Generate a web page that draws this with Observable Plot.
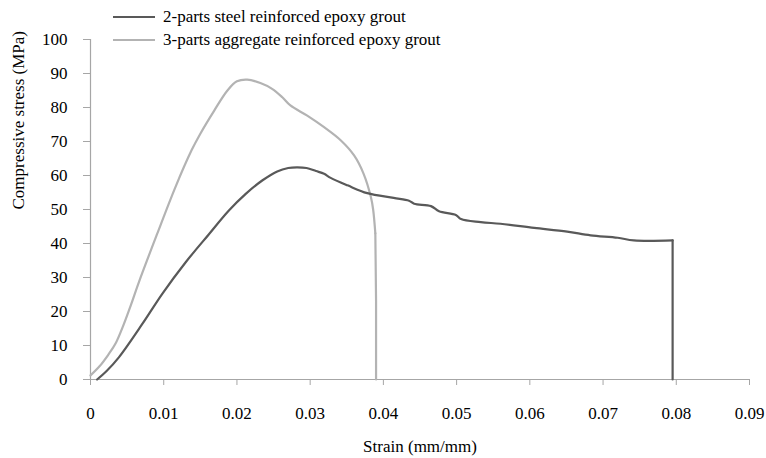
<!DOCTYPE html>
<html>
<head>
<meta charset="utf-8">
<script src="https://cdn.jsdelivr.net/npm/d3@7"></script>
<script src="https://cdn.jsdelivr.net/npm/@observablehq/plot@0.6"></script>
<style>
  html, body { margin: 0; padding: 0; background: #fff; }
  #wrap { position: relative; width: 766px; height: 458px; font-family: "Liberation Serif", "Times New Roman", Times, "Noto Serif", "DejaVu Serif", "Nimbus Roman", FreeSerif, serif; }
  #legend { position: absolute; left: 113px; top: 5px; font-size: 17px; color: #000; line-height: 23px; }
  #legend .row { display: flex; align-items: center; height: 23px; }
  #legend svg { margin-right: 8px; }
</style>
</head>
<body>
<div id="wrap">
  <div id="chart"></div>
  <div id="legend"></div>
</div>
<script>
// Series names
const seriesNames = ["2-parts steel reinforced epoxy grout", "3-parts aggregate reinforced epoxy grout"];
const seriesColors = ["#595959", "#b3b3b3"];

// 2-parts steel reinforced epoxy grout
const steelStrain = [0.0009, 0.0022, 0.0039, 0.0071, 0.0098, 0.0130, 0.0162, 0.0189, 0.0212, 0.0235, 0.0255, 0.0270, 0.0282, 0.0295, 0.0308, 0.0319, 0.0328, 0.0351, 0.0378, 0.0414, 0.0435, 0.0442, 0.0465, 0.0476, 0.0499, 0.0506, 0.0533, 0.0560, 0.0606, 0.0651, 0.0683, 0.0720, 0.0742, 0.0795, 0.0795];
const steelStress = [0, 2.5, 6.6, 16.4, 25.2, 34.5, 42.8, 49.7, 54.6, 58.6, 61.2, 62.2, 62.4, 62.2, 61.3, 60.5, 59.3, 57.1, 54.8, 53.4, 52.6, 51.7, 51.0, 49.5, 48.4, 47.2, 46.3, 45.8, 44.6, 43.5, 42.4, 41.7, 40.9, 40.9, 0];

// 3-parts aggregate reinforced epoxy grout
const aggStrain = [0, 0.0012, 0.0024, 0.0034, 0.0045, 0.0055, 0.0066, 0.0091, 0.0116, 0.0138, 0.0150, 0.0169, 0.0187, 0.0200, 0.0214, 0.0232, 0.0248, 0.0262, 0.0273, 0.0296, 0.0319, 0.0342, 0.0360, 0.0373, 0.0383, 0.0386, 0.0389, 0.0390, 0.0390];
const aggStress = [1.2, 3.8, 7.2, 10.5, 16.0, 21.8, 28.6, 42.8, 56.6, 67.4, 72.3, 79.1, 85.0, 87.7, 88.2, 87.2, 85.5, 83.0, 80.6, 77.6, 74.2, 70.3, 65.9, 60.5, 53.6, 50.0, 43.0, 23.0, 0];

// Axis ticks
const xTicks = [0, 0.01, 0.02, 0.03, 0.04, 0.05, 0.06, 0.07, 0.08, 0.09];
const yTicks = [0, 10, 20, 30, 40, 50, 60, 70, 80, 90, 100];
const xLabel = "Strain (mm/mm)";
const yLabel = "Compressive stress (MPa)";

const steel = steelStrain.map((x, i) => ({x, y: steelStress[i]}));
const agg = aggStrain.map((x, i) => ({x, y: aggStress[i]}));
// smooth part and the final vertical failure drop
const steelSmooth = steel.slice(0, steel.length - 1), steelDrop = steel.slice(steel.length - 2);
const aggSmooth = agg.slice(0, agg.length - 2), aggDrop = agg.slice(agg.length - 3);

const axisColor = "#a6a6a6";
const font = "'Liberation Serif', 'Times New Roman', Times, 'Noto Serif', 'DejaVu Serif', 'Nimbus Roman', FreeSerif, serif";

const chart = Plot.plot({
  width: 766,
  height: 458,
  marginLeft: 90,
  marginRight: 17,
  marginTop: 39,
  marginBottom: 79,
  style: {fontFamily: font, fontSize: "17px", background: "#fff", color: "#000", overflow: "visible"},
  x: {domain: [0, 0.09]},
  y: {domain: [0, 100]},
  marks: [
    Plot.axisX(xTicks, {tickSize: 6, tickPadding: 21, stroke: axisColor, fill: "#000", label: null,
      tickFormat: d => d === 0 ? "0" : String(+d.toFixed(2))}),
    Plot.axisY(yTicks, {tickSize: 7, tickPadding: 16, stroke: axisColor, fill: "#000", label: null}),
    Plot.ruleY([0], {stroke: axisColor, strokeWidth: 1.2}),
    Plot.ruleX([0], {stroke: axisColor, strokeWidth: 1.2}),
    Plot.line(aggSmooth, {x: "x", y: "y", stroke: seriesColors[1], strokeWidth: 2.2, curve: "catmull-rom"}),
    Plot.line(aggDrop, {x: "x", y: "y", stroke: seriesColors[1], strokeWidth: 2.2, curve: "linear"}),
    Plot.line(steelSmooth, {x: "x", y: "y", stroke: seriesColors[0], strokeWidth: 2.2, curve: "catmull-rom"}),
    Plot.line(steelDrop, {x: "x", y: "y", stroke: seriesColors[0], strokeWidth: 2.2, curve: "linear"}),
    Plot.text([xLabel], {frameAnchor: "bottom", dy: 72, fill: "#000", fontSize: 17}),
    Plot.text([yLabel], {frameAnchor: "left", dx: -72, rotate: -90, fill: "#000", fontSize: 17})
  ]
});
document.getElementById("chart").appendChild(chart);

const legend = document.getElementById("legend");
seriesNames.forEach((name, i) => {
  const row = document.createElement("div");
  row.className = "row";
  row.innerHTML = `<svg width="42" height="4"><line x1="0" x2="42" y1="2" y2="2" stroke="${seriesColors[i]}" stroke-width="2.2"/></svg><span></span>`;
  row.querySelector("span").textContent = name;
  legend.appendChild(row);
});
</script>
</body>
</html>
